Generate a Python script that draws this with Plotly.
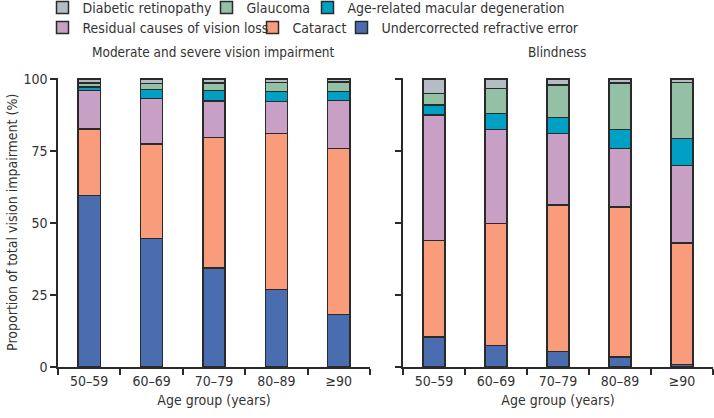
import plotly.graph_objects as go

age_groups = ["50–59", "60–69", "70–79", "80–89", "≥90"]

causes = [
    "Undercorrected refractive error",
    "Cataract",
    "Residual causes of vision loss",
    "Age-related macular degeneration",
    "Glaucoma",
    "Diabetic retinopathy",
]
colors = ["#4a6db0", "#f89c7b", "#c8a0c5", "#00a0c4", "#94c0a6", "#b5bdc4"]

# Moderate and severe vision impairment (%)
msvi_refractive = [59.5, 44.6, 34.3, 27.0, 18.2]
msvi_cataract = [23.1, 32.8, 45.4, 54.1, 57.6]
msvi_residual = [13.5, 15.8, 12.7, 11.1, 16.7]
msvi_amd = [1.1, 3.2, 3.6, 3.5, 3.1]
msvi_glaucoma = [1.4, 2.1, 2.7, 3.1, 3.3]
msvi_diabetic = [1.4, 1.5, 1.3, 1.2, 1.1]

# Blindness (%)
blind_refractive = [10.4, 7.5, 5.4, 3.5, 0.9]
blind_cataract = [33.6, 42.4, 50.8, 52.0, 42.2]
blind_residual = [43.5, 32.5, 24.9, 20.4, 26.8]
blind_amd = [3.5, 5.6, 5.5, 6.6, 9.5]
blind_glaucoma = [4.0, 8.8, 11.4, 16.1, 19.4]
blind_diabetic = [5.0, 3.2, 2.0, 1.4, 1.2]

yticks = [0, 25, 50, 75, 100]

msvi = [msvi_refractive, msvi_cataract, msvi_residual, msvi_amd, msvi_glaucoma, msvi_diabetic]
blind = [blind_refractive, blind_cataract, blind_residual, blind_amd, blind_glaucoma, blind_diabetic]

FONT = "Liberation Sans Narrow, Arial Narrow, DejaVu Sans Condensed, sans-serif"
TXT = "#333333"
LINE = "#2a2a2a"

W, H = 714, 418
def px(x):
    return x / W
def py(y):
    return 1 - y / H

# legend placement: (text start px, row centre px) for each cause, in causes order
legend_pos = [(381, 28), (292, 28), (82, 28), (347, 8), (246, 8), (82, 8)]

fig = go.Figure()
for i, name in enumerate(causes):
    leg = "legend" if i == 0 else f"legend{i + 1}"
    fig.add_trace(go.Bar(
        x=age_groups, y=msvi[i], name=name, legendgroup=name, legend=leg,
        marker=dict(color=colors[i], line=dict(color=LINE, width=1.5)),
        xaxis="x", yaxis="y", showlegend=True,
    ))
for i, name in enumerate(causes):
    fig.add_trace(go.Bar(
        x=age_groups, y=blind[i], name=name, legendgroup=name,
        marker=dict(color=colors[i], line=dict(color=LINE, width=1.5)),
        xaxis="x2", yaxis="y2", showlegend=False,
    ))

axis_common = dict(
    showline=True, linecolor=LINE, linewidth=1.5,
    ticks="outside", tickcolor=LINE, tickwidth=1.5, ticklen=6,
    showgrid=False, zeroline=False,
    tickfont=dict(family=FONT, size=14, color=TXT),
)

layout = dict(
    width=W, height=H,
    margin=dict(l=0, r=0, t=0, b=0, autoexpand=False),
    paper_bgcolor="white", plot_bgcolor="white",
    barmode="stack", bargap=0.645,
    font=dict(family=FONT, size=14, color=TXT),
    xaxis=dict(domain=[px(58), px(370)], tickson="boundaries",
               title=dict(text="Age group (years)", font=dict(family=FONT, size=14, color=TXT), standoff=8),
               anchor="y", **axis_common),
    yaxis=dict(domain=[py(367), py(77.6)], range=[0, 100.5], tickvals=yticks,
               title=dict(text="Proportion of total vision impairment (%)", font=dict(family=FONT, size=14, color=TXT), standoff=3),
               anchor="x", **axis_common),
    xaxis2=dict(domain=[px(403), px(713)], tickson="boundaries",
                title=dict(text="Age group (years)", font=dict(family=FONT, size=14, color=TXT), standoff=8),
                anchor="y2", **axis_common),
    yaxis2=dict(domain=[py(367), py(77.6)], range=[0, 100.5], tickvals=yticks,
                showticklabels=False, anchor="x2", **axis_common),
    annotations=[
        dict(text="Moderate and severe vision impairment", x=px(213), y=py(52), xref="paper", yref="paper",
             showarrow=False, xanchor="center", yanchor="middle", font=dict(family=FONT, size=13.5, color=TXT)),
        dict(text="Blindness", x=px(557), y=py(52), xref="paper", yref="paper",
             showarrow=False, xanchor="center", yanchor="middle", font=dict(family=FONT, size=13.5, color=TXT)),
    ],
)
for i, (tx, ty) in enumerate(legend_pos):
    key = "legend" if i == 0 else f"legend{i + 1}"
    layout[key] = dict(orientation="h", x=px(tx - 39.5), y=py(ty), xanchor="left", yanchor="middle",
                       font=dict(family=FONT, size=14, color=TXT),
                       bgcolor="rgba(0,0,0,0)", itemclick=False, itemdoubleclick=False)
fig.update_layout(**layout)

# remove the browser's default 8px body margin so the figure fills the window
fig.write_html("out.html", config={"displayModeBar": False},
               post_script="document.body.style.margin='0';")
